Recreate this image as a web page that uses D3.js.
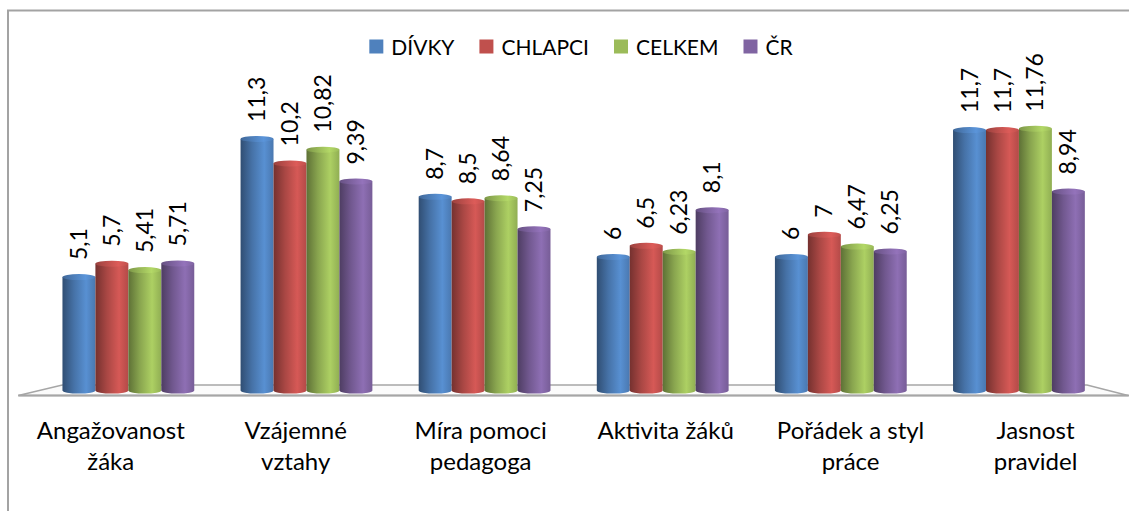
<!DOCTYPE html>
<html>
<head>
<meta charset="utf-8">
<script src="https://cdn.jsdelivr.net/npm/d3@7"></script>
<style>
  html, body { margin: 0; padding: 0; background: #fff; }
  svg { display: block; font-family: Lato, "Open Sans", sans-serif; }
</style>
</head>
<body>
<svg id="chart" width="1129" height="511"></svg>
<script>
// Categories (two-line labels separated by "|")
const categories = [
  "Angažovanost|žáka",
  "Vzájemné|vztahy",
  "Míra pomoci|pedagoga",
  "Aktivita žáků",
  "Pořádek a styl|práce",
  "Jasnost|pravidel"
];
const seriesNames = ["DÍVKY", "CHLAPCI", "CELKEM", "ČR"];
const divky   = [5.1, 11.3, 8.7, 6, 6, 11.7];
const chlapci = [5.7, 10.2, 8.5, 6.5, 7, 11.7];
const celkem  = [5.41, 10.82, 8.64, 6.23, 6.47, 11.76];
const cr      = [5.71, 9.39, 7.25, 8.1, 6.25, 8.94];
const seriesColors = ["#4F81BD", "#C0504D", "#9BBB59", "#8064A2"];

const seriesValues = [divky, chlapci, celkem, cr];

const svg = d3.select("#chart");
const W = 1129, H = 511;

// Czech number format (decimal comma)
const cz = d3.formatLocale({ decimal: ",", thousands: " ", grouping: [3], currency: ["", " Kč"] });
const fmt = v => cz.format(",")(v);

// Outer chart frame
svg.append("rect")
  .attr("x", 8).attr("y", 10.5)
  .attr("width", W + 20).attr("height", H + 20)
  .attr("fill", "#fff")
  .attr("stroke", "#a3a3a3").attr("stroke-width", 2);

// Scales
const baseY = 390.6;
const y = d3.scaleLinear().domain([0, 14]).range([baseY, baseY - 14 * 22.27]);
const x0 = d3.scaleBand().domain(categories).range([39.3, 1108])
  .paddingInner(0.26).paddingOuter(0.13);
const x1 = d3.scaleBand().domain(seriesNames).range([0, x0.bandwidth()]);

// Gradients for cylinder shading
const defs = svg.append("defs");
seriesColors.forEach((c, i) => {
  const base = d3.rgb(c);
  const g = defs.append("linearGradient").attr("id", "cyl" + i)
    .attr("x1", "0%").attr("x2", "100%").attr("y1", "0%").attr("y2", "0%");
  g.append("stop").attr("offset", "0%").attr("stop-color", base.darker(1.4));
  g.append("stop").attr("offset", "35%").attr("stop-color", base.darker(0.35));
  g.append("stop").attr("offset", "72%").attr("stop-color", base.brighter(0.3));
  g.append("stop").attr("offset", "100%").attr("stop-color", base.darker(0.2));
  const t = defs.append("linearGradient").attr("id", "cap" + i)
    .attr("x1", "0%").attr("x2", "100%");
  t.append("stop").attr("offset", "0%").attr("stop-color", base.darker(0.6));
  t.append("stop").attr("offset", "70%").attr("stop-color", base.brighter(0.4));
  t.append("stop").attr("offset", "100%").attr("stop-color", base);
});

// Floor (3D base plate)
const [r0, r1] = x0.range();
const floorBackY = 385, floorFrontY = 395.5;
const frontL = r0 - 21, frontR = r1 + 20;
const floor = svg.append("g");
floor.append("path")
  .attr("d", `M${r0 + 23},${floorBackY} L${r1 - 21},${floorBackY} L${frontR},${floorFrontY} L${frontL},${floorFrontY} Z`)
  .attr("fill", "#fbfbfb")
  .attr("stroke", "#a6a6a6").attr("stroke-width", 1.5);
floor.append("line")
  .attr("x1", frontL).attr("x2", W + 5)
  .attr("y1", floorFrontY).attr("y2", floorFrontY)
  .attr("stroke", "#a6a6a6").attr("stroke-width", 2.2);

// Category axis along the front edge of the floor (perspective spreads it wider)
const xFront = d3.scaleBand().domain(categories).range([frontL, frontR]);

// Bars as shaded cylinders
const rows = categories.map((c, ci) => ({
  cat: c,
  vals: seriesNames.map((s, si) => ({ s, si, v: seriesValues[si][ci] }))
}));

const groups = svg.append("g").selectAll("g").data(rows).join("g")
  .attr("transform", d => `translate(${x0(d.cat)},0)`);

const ry = 3;
const bars = groups.selectAll("g.bar").data(d => d.vals).join("g").attr("class", "bar");

bars.append("path")
  .attr("d", d => {
    const bx = x1(d.s), bw = x1.bandwidth(), top = y(d.v), bot = y(0);
    return `M${bx},${top} L${bx},${bot} A${bw / 2},${ry} 0 0 0 ${bx + bw},${bot} L${bx + bw},${top} Z`;
  })
  .attr("fill", d => `url(#cyl${d.si})`);

bars.append("ellipse")
  .attr("cx", d => x1(d.s) + x1.bandwidth() / 2)
  .attr("cy", d => y(d.v))
  .attr("rx", x1.bandwidth() / 2)
  .attr("ry", ry)
  .attr("fill", d => `url(#cap${d.si})`);

// Rotated value labels
bars.append("text")
  .attr("transform", d => `translate(${x1(d.s) + x1.bandwidth() / 2},${y(d.v) - 17}) rotate(-90)`)
  .attr("dy", "0.35em")
  .attr("text-anchor", "start")
  .attr("font-size", 23)
  .attr("fill", "#000")
  .text(d => fmt(d.v));

// Category labels
const catLabels = svg.append("g").selectAll("text").data(categories).join("text")
  .attr("x", d => xFront(d) + xFront.bandwidth() / 2)
  .attr("y", 439)
  .attr("text-anchor", "middle")
  .attr("font-size", 24)
  .attr("fill", "#000");
catLabels.selectAll("tspan").data(d => d.split("|")).join("tspan")
  .attr("x", function () { return d3.select(this.parentNode).attr("x"); })
  .attr("dy", (d, i) => i === 0 ? 0 : 30.5)
  .text(d => d);

// Legend
const legend = svg.append("g");
const items = legend.selectAll("g").data(seriesNames).join("g");
items.append("rect").attr("width", 14).attr("height", 14).attr("y", 39.5)
  .attr("fill", (d, i) => seriesColors[i]);
items.append("text").attr("x", 22).attr("y", 55).attr("font-size", 21)
  .attr("fill", "#000").text(d => d);
let cursor = 0;
const widths = [];
items.each(function () {
  widths.push(22 + this.querySelector("text").getComputedTextLength());
});
const gap = 25;
const total = d3.sum(widths) + gap * (widths.length - 1);
cursor = 581 - total / 2;
items.attr("transform", (d, i) => {
  const tx = cursor;
  cursor += widths[i] + gap;
  return `translate(${tx},0)`;
});
</script>
</body>
</html>
